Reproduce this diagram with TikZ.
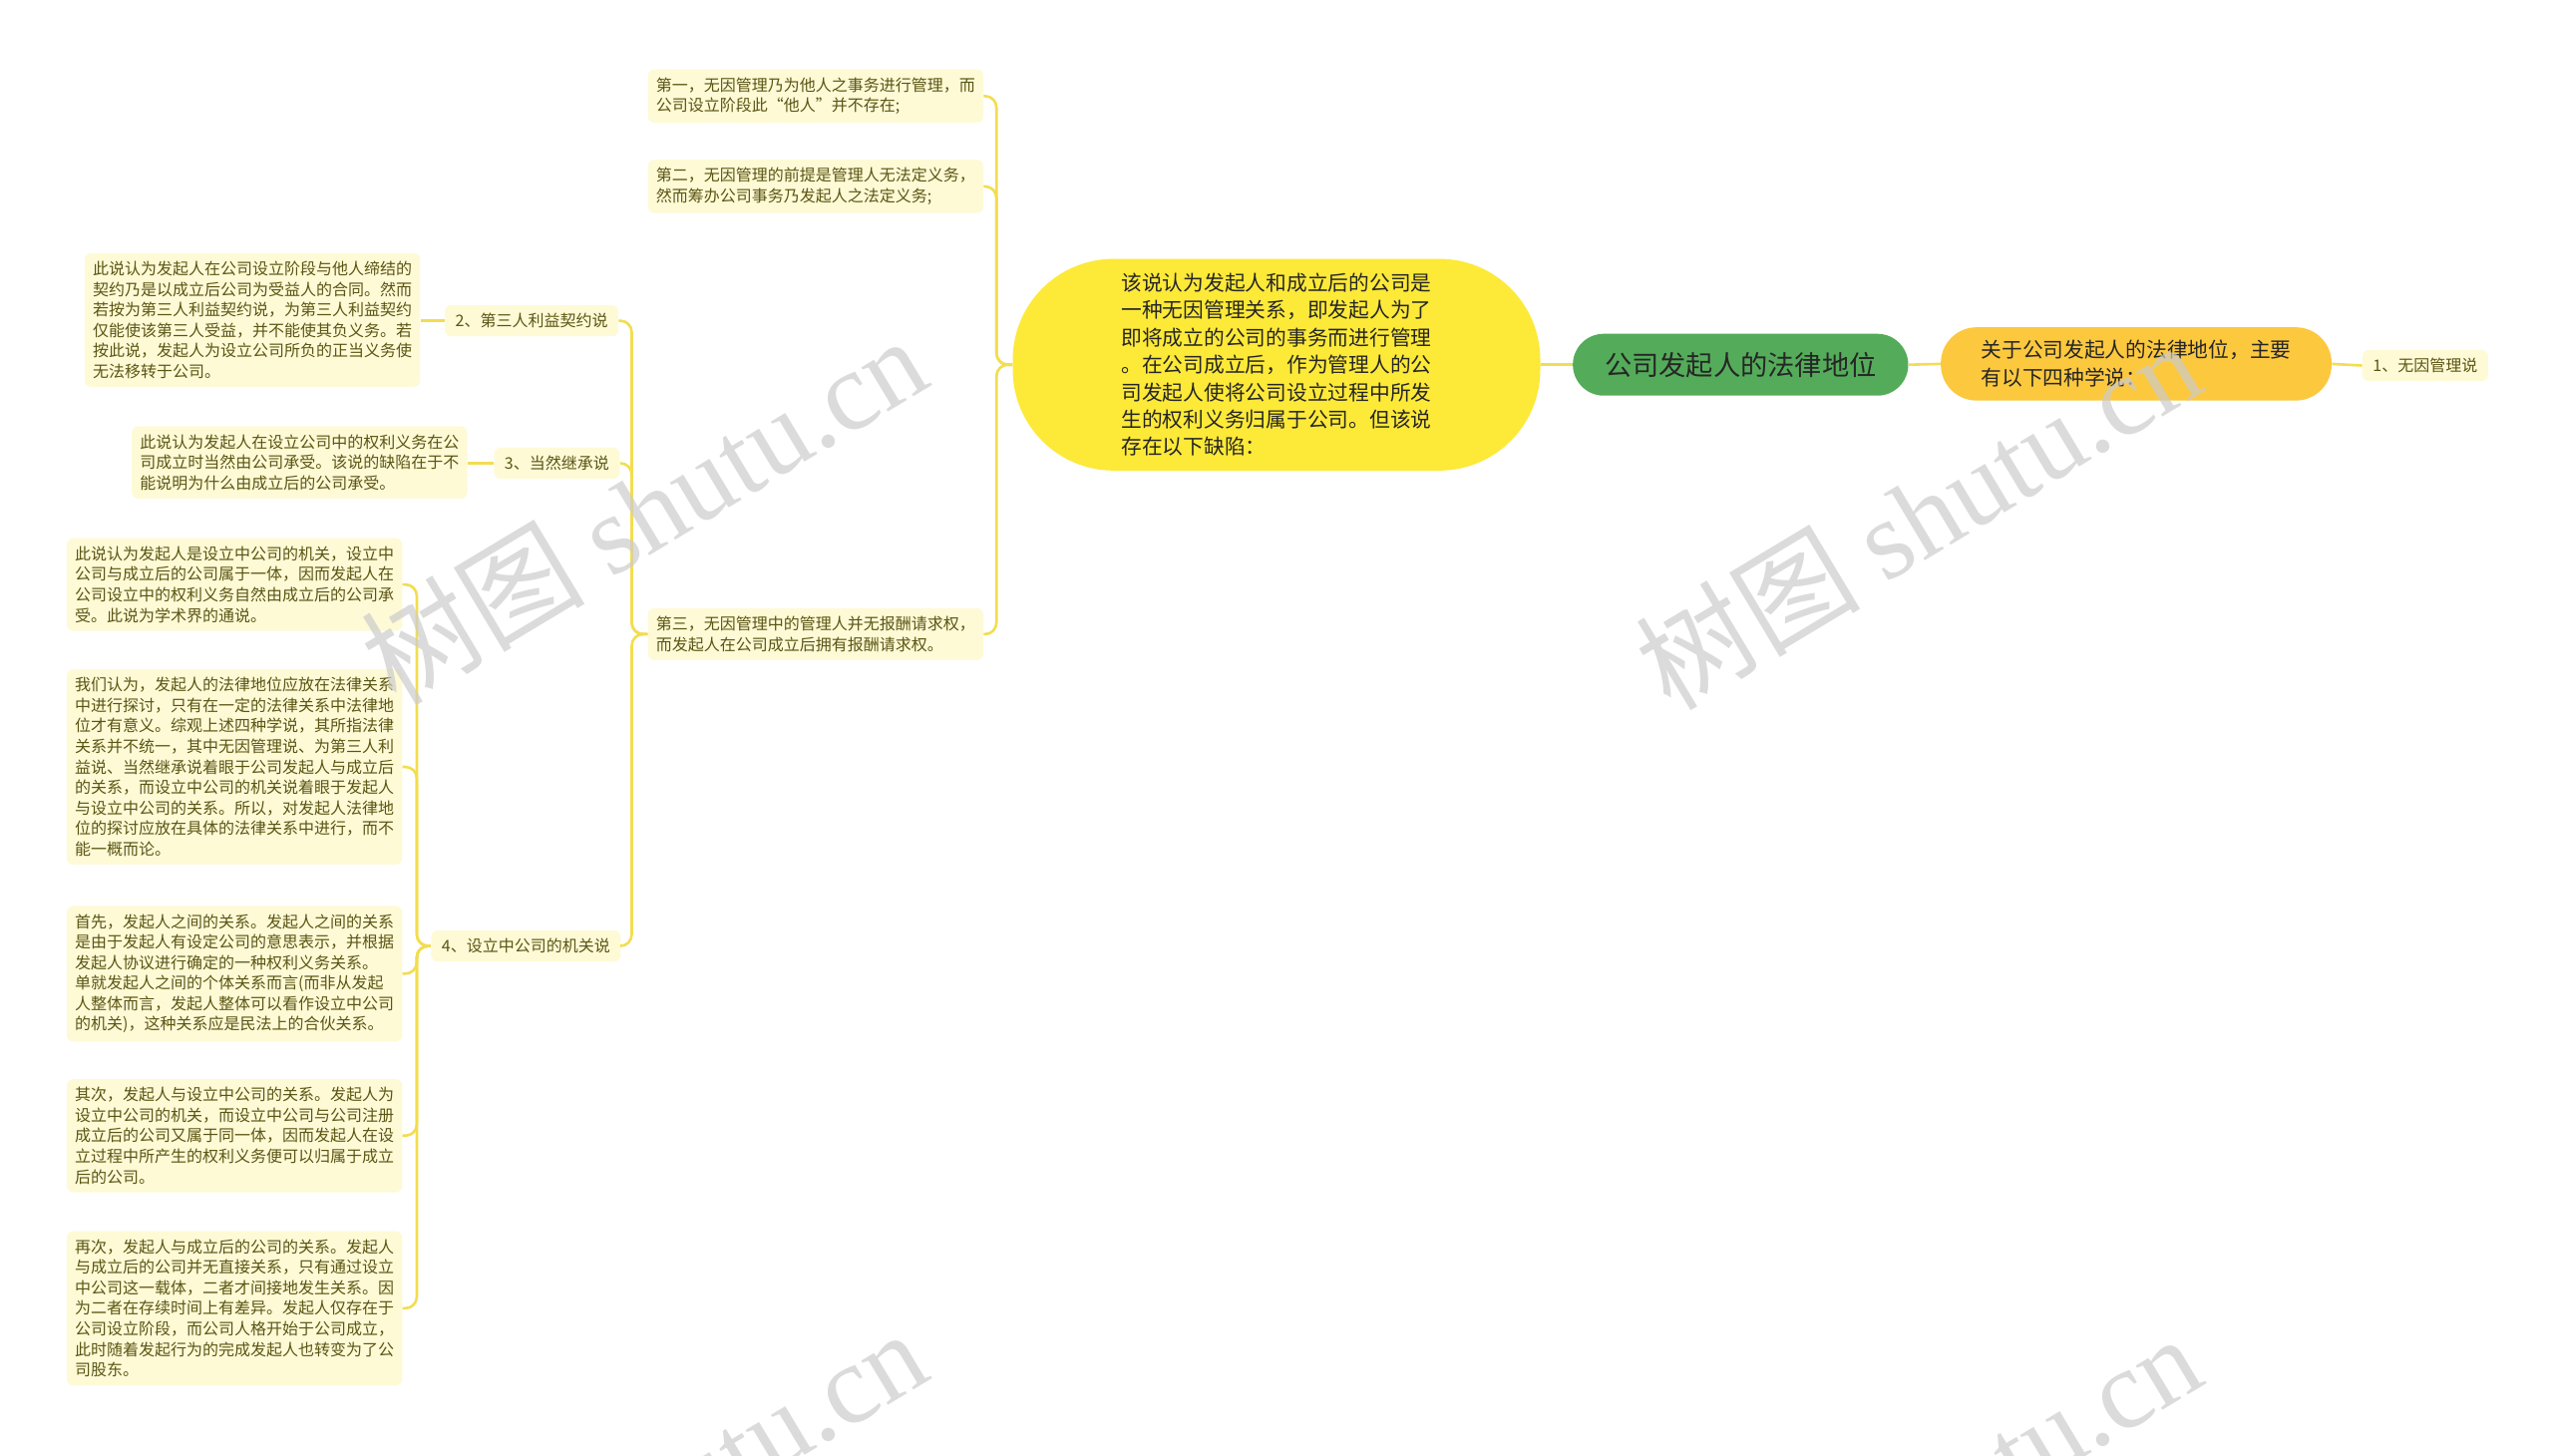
\documentclass[tikz,border=0pt]{standalone}
\usepackage{fontspec}
\setmainfont{Noto Sans CJK SC}
\newfontfamily\wmserif{Liberation Serif}
\definecolor{lineC}{RGB}{243,221,80}
\definecolor{leafF}{RGB}{254,250,214}
\definecolor{leafT}{RGB}{91,85,20}
\definecolor{rootF}{RGB}{84,172,90}
\definecolor{orangeF}{RGB}{252,200,62}
\definecolor{yellowF}{RGB}{253,233,56}
\begin{document}
\begin{tikzpicture}[x=1pt,y=-1pt,
  leaf/.style={fill=leafF,text=leafT,rounded corners=4pt,inner xsep=5pt,inner ysep=5pt,align=left,font=\fontsize{9.8}{12.6}\selectfont},
  lbl/.style={fill=leafF,text=leafT,rounded corners=4pt,inner xsep=6.5pt,inner ysep=5pt,font=\fontsize{9.8}{12.6}\selectfont},
  conn/.style={draw=lineC,line width=1.6pt,rounded corners=7pt},
  wm/.style={text=black!20,opacity=0.7,font=\fontsize{69}{75}\selectfont,rotate=31}]
\useasboundingbox (0,0) rectangle (1568,894);
\fill[white] (0,0) rectangle (1568,894);

% central nodes
\node[fill=rootF,text=black!85,rounded corners=19pt,minimum width=206pt,minimum height=38pt,inner sep=0pt,font=\fontsize{16.7}{20}\selectfont] (R) at (1069,224) {公司发起人的法律地位};
\node[fill=orangeF,text=black!85,rounded corners=22pt,minimum width=240pt,minimum height=45pt,inner sep=0pt,align=left,font=\fontsize{12.7}{17}\selectfont] (O) at (1312,223.5) {关于公司发起人的法律地位，主要\\有以下四种学说：};
\node[lbl] (L1) at (1489.5,224.5) {1、无因管理说};
\node[fill=yellowF,text=black!85,rounded corners=62pt,minimum width=324pt,minimum height=130pt,inner sep=0pt,align=left,font=\fontsize{12.7}{16.8}\selectfont] (Y) at (784,224) {该说认为发起人和成立后的公司是\\一种无因管理关系，即发起人为了\\即将成立的公司的事务而进行管理\\。在公司成立后，作为管理人的公\\司发起人使将公司设立过程中所发\\生的权利义务归属于公司。但该说\\存在以下缺陷：};

% first level on the left
\node[leaf] (N1) at (501,59) {第一，无因管理乃为他人之事务进行管理，而\\公司设立阶段此“他人”并不存在;};
\node[leaf] (N2) at (501,114.5) {第二，无因管理的前提是管理人无法定义务，\\然而筹办公司事务乃发起人之法定义务;};
\node[leaf] (N3) at (501,389.5) {第三，无因管理中的管理人并无报酬请求权，\\而发起人在公司成立后拥有报酬请求权。};

% theories
\node[lbl] (L2) at (326.5,197) {2、第三人利益契约说};
\node[lbl] (L3) at (342,284.5) {3、当然继承说};
\node[lbl] (L4) at (323,581) {4、设立中公司的机关说};

\node[leaf] (T2) at (155,196.5) {此说认为发起人在公司设立阶段与他人缔结的\\契约乃是以成立后公司为受益人的合同。然而\\若按为第三人利益契约说，为第三人利益契约\\仅能使该第三人受益，并不能使其负义务。若\\按此说，发起人为设立公司所负的正当义务使\\无法移转于公司。};
\node[leaf] (T3) at (184,284) {此说认为发起人在设立公司中的权利义务在公\\司成立时当然由公司承受。该说的缺陷在于不\\能说明为什么由成立后的公司承受。};

\node[leaf] (C1) at (144,359) {此说认为发起人是设立中公司的机关，设立中\\公司与成立后的公司属于一体，因而发起人在\\公司设立中的权利义务自然由成立后的公司承\\受。此说为学术界的通说。};
\node[leaf] (C2) at (144,471) {我们认为，发起人的法律地位应放在法律关系\\中进行探讨，只有在一定的法律关系中法律地\\位才有意义。综观上述四种学说，其所指法律\\关系并不统一，其中无因管理说、为第三人利\\益说、当然继承说着眼于公司发起人与成立后\\的关系，而设立中公司的机关说着眼于发起人\\与设立中公司的关系。所以，对发起人法律地\\位的探讨应放在具体的法律关系中进行，而不\\能一概而论。};
\node[leaf] (C3) at (144,598) {首先，发起人之间的关系。发起人之间的关系\\是由于发起人有设定公司的意思表示，并根据\\发起人协议进行确定的一种权利义务关系。\\单就发起人之间的个体关系而言(而非从发起\\人整体而言，发起人整体可以看作设立中公司\\的机关)，这种关系应是民法上的合伙关系。};
\node[leaf] (C4) at (144,697.5) {其次，发起人与设立中公司的关系。发起人为\\设立中公司的机关，而设立中公司与公司注册\\成立后的公司又属于同一体，因而发起人在设\\立过程中所产生的权利义务便可以归属于成立\\后的公司。};
\node[leaf] (C5) at (144,803.5) {再次，发起人与成立后的公司的关系。发起人\\与成立后的公司并无直接关系，只有通过设立\\中公司这一载体，二者才间接地发生关系。因\\为二者在存续时间上有差异。发起人仅存在于\\公司设立阶段，而公司人格开始于公司成立，\\此时随着发起行为的完成发起人也转变为了公\\司股东。};

% trunk coordinates
\coordinate (bY) at (612,224);
\coordinate (bN) at (388,389.5);
\coordinate (bL) at (256,581);

% connectors
\draw[conn] (R.east) -- (O.west);
\draw[conn] (O.east) -- (L1.west);
\draw[conn] (R.west) -- (Y.west -| Y.east);
\foreach \c in {N1,N2,N3} \draw[conn] (Y.west) -- (bY) |- (\c.east);
\foreach \c in {L2,L3,L4} \draw[conn] (N3.west) -- (bN) |- (\c.east);
\draw[conn] (L2.west) -- (T2.east |- L2.west);
\draw[conn] (L3.west) -- (T3.east |- L3.west);
\foreach \c in {C1,C2,C3,C4,C5} \draw[conn] (L4.west) -- (bL) |- (\c.east);

% watermarks
\begin{scope}
\clip (0,0) rectangle (1568,894);
\node[wm] (W1) at (395,313) {树图 {\wmserif shutu.cn}};
\node[wm] (W2) at (1178,316) {树图 {\wmserif shutu.cn}};
\node[wm] (W3) at (395,923) {树图 {\wmserif shutu.cn}};
\node[wm] (W4) at (1178,926) {树图 {\wmserif shutu.cn}};
\end{scope}
\end{tikzpicture}
\end{document}
